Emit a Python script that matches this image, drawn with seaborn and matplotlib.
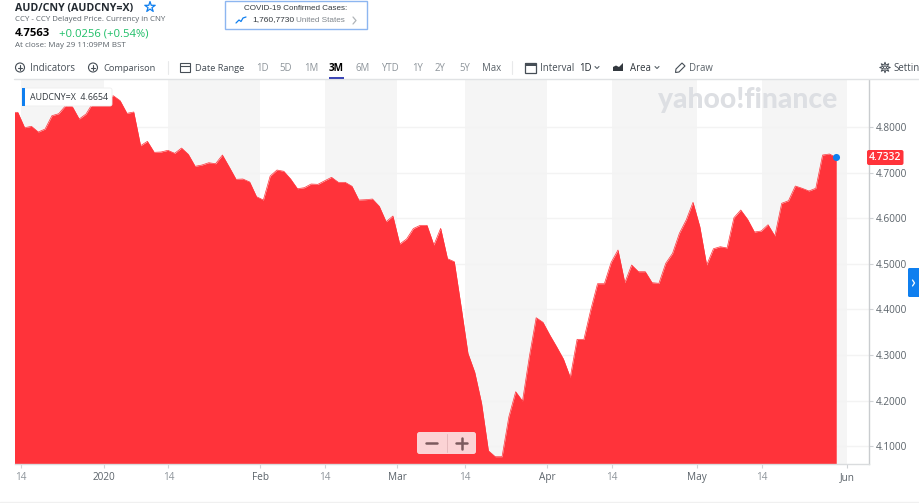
import numpy as np
import matplotlib
matplotlib.use("Agg")
import matplotlib.pyplot as plt
from matplotlib.patches import Circle, FancyBboxPatch, Rectangle, Polygon
import seaborn as sns

# Daily AUD/CNY closes, one value per trading session
closes = [
    4.8322, 4.8322, 4.7985, 4.8015, 4.7890, 4.7956, 4.8248, 4.8292, 4.8467, 4.8445,
    4.8175, 4.8285, 4.8526, 4.8592, 4.8614, 4.8686, 4.8577, 4.8300, 4.8329, 4.7590,
    4.7686, 4.7445, 4.7452, 4.7489, 4.7423, 4.7539, 4.7401, 4.7138, 4.7167, 4.7217,
    4.7195, 4.7386, 4.7123, 4.6853, 4.6860, 4.6794, 4.6471, 4.6399, 4.6925, 4.7057,
    4.7029, 4.6860, 4.6647, 4.6669, 4.6750, 4.6743, 4.6822, 4.6897, 4.6787, 4.6787,
    4.6700, 4.6399, 4.6406, 4.6421, 4.6261, 4.5923, 4.6048, 4.5434, 4.5544, 4.5774,
    4.5844, 4.5844, 4.5412, 4.5778, 4.5112, 4.5046, 4.4059, 4.3037, 4.2621, 4.1941,
    4.0901, 4.0770, 4.0770, 4.1647, 4.2195, 4.1991, 4.2963, 4.3818, 4.3717, 4.3439,
    4.3182, 4.2912, 4.2511, 4.3344, 4.3344, 4.3987, 4.4564, 4.4564, 4.5033, 4.5303,
    4.4586, 4.4974, 4.4827, 4.4827, 4.4586, 4.4572, 4.5011, 4.5230, 4.5669, 4.5961,
    4.6349, 4.5814, 4.4974, 4.5331, 4.5375, 4.5347, 4.6011, 4.6180, 4.5976, 4.5697,
    4.5719, 4.5857, 4.5610, 4.6327, 4.6384, 4.6706, 4.6656, 4.6597, 4.6656, 4.7386,
    4.7408, 4.7332,
]
date_ticks = [1.47, 13.64, 23.09, 36.51, 46.04, 56.60, 66.50, 78.59, 88.06, 100.59, 110.12, 122.58]
date_labels = ["14", "2020", "14", "Feb", "14", "Mar", "14", "Apr", "14", "May", "14", "Jun"]
price_ticks = [4.1, 4.2, 4.3, 4.4, 4.5, 4.6, 4.7, 4.8]
shaded_spans = [(1.47, 13.64), (23.09, 36.51), (46.04, 56.60), (66.50, 78.59), (88.06, 100.59), (110.12, 122.58)]
last_price = 4.7332

RED = "#FF333A"
BLUE = "#0F7FEF"
DARK = "#232A31"
GREY = "#5B636A"
LIGHT = "#8E959B"

sns.set_style("white")
plt.rcParams["font.family"] = ["Open Sans", "DejaVu Sans"]

W, H = 919, 503
fig = plt.figure(figsize=(W / 100, H / 100), dpi=100, facecolor="white")

# Price panel
ax = fig.add_axes([15 / W, 1 - 464 / H, 853.7 / W, 384 / H])
sessions = np.arange(len(closes))
for start, end in shaded_spans:
    ax.axvspan(start, end, color="#F5F5F5", lw=0, zorder=0)
for p in price_ticks:
    ax.axhline(p, color="#F3F3F3", lw=1, zorder=1)
ax.fill_between(sessions, closes, 4.0, color=RED, lw=0, zorder=2)
sns.lineplot(x=sessions, y=closes, color=RED, lw=0.5, ax=ax, zorder=3, errorbar=None)
ax.scatter([sessions[-1]], [last_price], s=26, color=BLUE, zorder=5, clip_on=False, lw=0)

ax.set_xlim(0.587, 125.76)
ax.set_ylim(4.0610, 4.9031)
ax.set_xticks(date_ticks)
ax.set_xticklabels(date_labels)
ax.yaxis.tick_right()
ax.set_yticks(price_ticks)
ax.set_yticklabels([f"{p:.4f}" for p in price_ticks])
ax.tick_params(axis="y", length=3, width=0.8, color="#D0D3D6", labelsize=7.2, labelcolor=GREY, pad=2, right=True)
ax.tick_params(axis="x", length=3, width=0.8, color="#D0D3D6", labelsize=7.2, pad=3, bottom=True)
for lab, text in zip(ax.get_xticklabels(), date_labels):
    lab.set_color(LIGHT if text == "14" else GREY)
for side in ("top", "left"):
    ax.spines[side].set_visible(False)
ax.spines["right"].set_color("#C9CCCF")
ax.spines["right"].set_linewidth(1)
ax.spines["bottom"].set_color("#DADCDE")
ax.spines["bottom"].set_linewidth(1)
ax.set_xlabel("")
ax.set_ylabel("")

# Page furniture, laid out in pixels on a transparent overlay
ov = fig.add_axes([0, 0, 1, 1], zorder=10)
ov.set_xlim(0, W)
ov.set_ylim(H, 0)
ov.axis("off")
ov.patch.set_alpha(0)


def label(x, y, s, size=6.9, color=GREY, weight="normal", ha="left", family=None, z=4):
    kw = {"family": family} if family else {}
    return ov.text(x, y, s, fontsize=size, color=color, fontweight=weight, ha=ha, va="center", zorder=z, **kw)


def rounded(x, y, w, h, fc, ec="none", r=2, lw=0, alpha=1, z=2):
    ov.add_patch(FancyBboxPatch((x + r, y + r), w - 2 * r, h - 2 * r, boxstyle=f"round,pad={r},rounding_size={r}",
                                fc=fc, ec=ec, lw=lw, alpha=alpha, zorder=z))


def circle_plus(x, y):
    ov.add_patch(Circle((x, y), 4.5, fc="none", ec="#464E56", lw=0.8))
    ov.plot([x - 2.2, x + 2.2], [y, y], color="#464E56", lw=0.8)
    ov.plot([x, x], [y - 2.2, y + 2.2], color="#464E56", lw=0.8)


def chevron(x, y, s=2, color=GREY, lw=0.8):
    ov.plot([x - s, x, x + s], [y - s / 2, y + s / 2, y - s / 2], color=color, lw=lw)


# Quote header
label(15, 8, "AUD/CNY (AUDCNY=X)", size=7.7, color=DARK, weight="bold")
ov.scatter([150], [7], marker="*", s=62, facecolors="none", edgecolors=BLUE, linewidths=0.9)
label(15, 19.5, "CCY - CCY Delayed Price. Currency in CNY", size=5.7, color=GREY)
label(15, 33.5, "4.7563", size=8.1, color="#000000", weight="bold")
label(59, 33.5, "+0.0256 (+0.54%)", size=8.1, color="#1FBF68")
label(15, 45.5, "At close: May 29 11:09PM BST", size=5.8, color=GREY)

# Case counter box
ov.add_patch(Rectangle((225, 0.5), 142, 28.5, fc="white", ec="#8DB6F0", lw=1))
label(296, 8, "COVID-19 Confirmed Cases:", size=5.8, color="#33393F", ha="center", family="Liberation Sans")
label(252, 20, "1,760,7730", size=6.0, color="#33393F", family="Liberation Sans")
label(296, 20, "United States", size=5.9, color="#80868C", family="Liberation Sans")
ov.plot([236, 239, 241, 243, 246], [23, 20, 21.5, 18, 17], color=BLUE, lw=0.9)
ov.plot([353, 356, 353], [17, 20.5, 24], color="#B0B4B8", lw=0.9)

# Toolbar
TY = 68.3
ov.plot([14, W], [79.3, 79.3], color="#E0E2E4", lw=1, zorder=1)
circle_plus(20, 67.5)
label(30, TY, "Indicators", color="#464E56")
circle_plus(93, 67.5)
label(103, TY, "Comparison", size=6.7, color="#464E56")
ov.plot([167.5, 167.5], [61, 74], color="#E8E9EA", lw=0.8)
ov.add_patch(Rectangle((180, 63), 9.5, 9, fc="none", ec="#464E56", lw=0.8))
ov.plot([180, 189.5], [65.5, 65.5], color="#464E56", lw=0.8)
label(195, TY, "Date Range", size=6.7, color="#464E56")
for x, s in zip([256, 279.5, 304, 355, 381, 412, 435, 459.5, 482], ["1D", "5D", "1M", "6M", "YTD", "1Y", "2Y", "5Y", "Max"]):
    label(x, TY, s, color=LIGHT if s != "Max" else GREY)
label(329, TY, "3M", size=7.2, color="#000000", weight="bold")
ov.add_patch(Rectangle((329, 77.3), 15, 2, fc="#3D47B5", lw=0))
ov.plot([512, 512], [61, 74], color="#E8E9EA", lw=0.8)
ov.add_patch(Rectangle((524.5, 63), 11, 9.5, fc="none", ec="#464E56", lw=0.9))
ov.add_patch(Rectangle((524.5, 63), 11, 3, fc="#464E56", lw=0))
label(540, TY, "Interval", color="#464E56")
label(579, TY, "1D", color=DARK)
chevron(597, 67.5)
ov.add_patch(Polygon([(613, 71), (613, 67), (616, 65.5), (619, 67), (623, 63), (623, 71)], fc="#33393F", lw=0))
label(630, TY, "Area", color="#33393F")
chevron(657, 67.5)
ov.add_patch(Polygon([(676, 69), (682, 63), (685, 66), (679, 72), (675.5, 72.5)], fc="none", ec="#464E56", lw=0.8))
label(689, TY, "Draw", color=GREY)
ov.scatter([885], [67.5], marker=(8, 1, 0), s=58, facecolors="none", edgecolors="#464E56", linewidths=0.7)
ov.add_patch(Circle((885, 67.5), 1.5, fc="none", ec="#464E56", lw=0.7))
label(893.5, TY, "Settin", color="#464E56")

# Watermark
label(658, 100, "yahoo!finance", size=20.3, color="#DDDFE3", weight=900, family="Lato")

# Hover readout
rounded(22, 88, 90, 18, "white", ec="#EEEEEE", lw=0.6)
ov.add_patch(Rectangle((22, 88), 3, 18, fc=BLUE, lw=0, zorder=3))
label(30, 97, "AUDCNY=X  4.6654", size=6.4, color="#33393F")

# Last-price tag
rounded(867, 150, 36.5, 15, RED)
label(885, 158, "4.7332", size=7.6, color="white", weight="semibold", ha="center")

# Side panel tab
rounded(908, 268, 14, 29, BLUE, r=1.5)
ov.plot([912.5, 914.5, 912.5], [280, 283, 286], color="white", lw=0.9, zorder=4)

# Zoom controls
rounded(417, 432, 59, 22, "#FBD3D5", r=2.5)
ov.plot([446.5, 446.5], [434, 452], color="#E5B9BC", lw=0.7, zorder=3)
ov.plot([426, 437], [443, 443], color="#7C5A5E", lw=1.8, zorder=3)
ov.plot([456, 467], [443, 443], color="#7C5A5E", lw=1.8, zorder=3)
ov.plot([461.5, 461.5], [437.5, 448.5], color="#7C5A5E", lw=1.8, zorder=3)

# Page footer rule
ov.plot([0, W], [501.7, 501.7], color="#F0F0F0", lw=1)

fig.savefig("out.png", dpi=100)
